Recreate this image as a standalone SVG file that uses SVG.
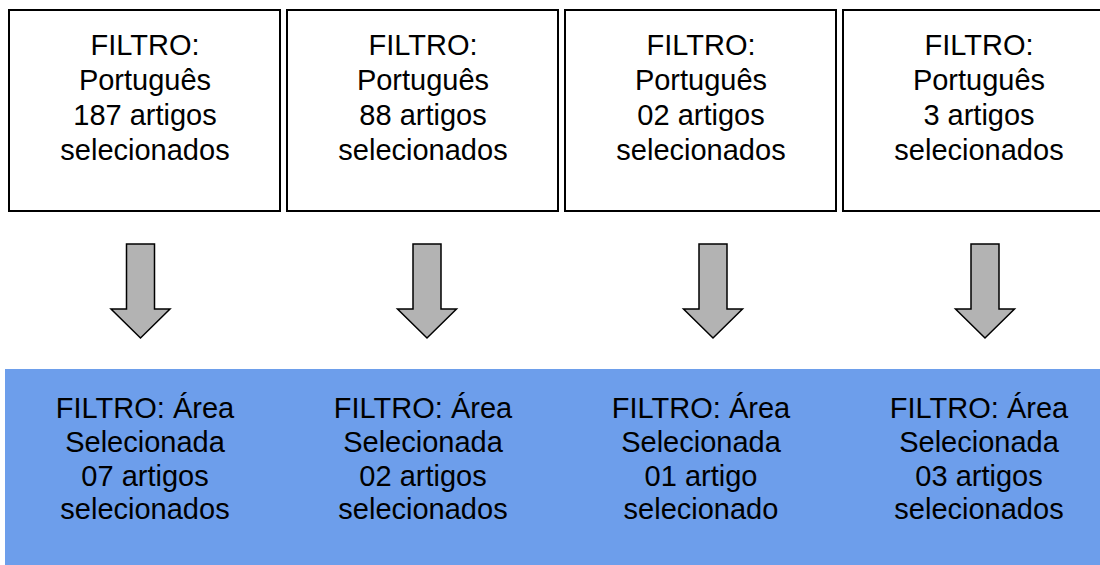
<svg xmlns="http://www.w3.org/2000/svg" width="1100" height="565" viewBox="0 0 1100 565">
<style>
  .box { fill: #ffffff; stroke: #000000; stroke-width: 2; }
  .panel { fill: #6D9EEB; stroke: none; }
  .arrow { fill: #B3B3B3; stroke: #000000; stroke-width: 1.5; stroke-linejoin: miter; }
  .t { font-family: "Liberation Sans", Arial, sans-serif; font-size: 29px; fill: #000000; text-anchor: middle; }
</style>
<rect width="1100" height="565" fill="#ffffff"/>

<g id="lang1">
  <rect class="box" x="9" y="10" width="271" height="201"/>
  <text class="t" x="145" y="55">FILTRO:</text>
  <text class="t" x="145" y="90">Português</text>
  <text class="t" x="145" y="125">187 artigos</text>
  <text class="t" x="145" y="160">selecionados</text>
</g>
<g id="lang2">
  <rect class="box" x="287" y="10" width="271" height="201"/>
  <text class="t" x="423" y="55">FILTRO:</text>
  <text class="t" x="423" y="90">Português</text>
  <text class="t" x="423" y="125">88 artigos</text>
  <text class="t" x="423" y="160">selecionados</text>
</g>
<g id="lang3">
  <rect class="box" x="565" y="10" width="271" height="201"/>
  <text class="t" x="701" y="55">FILTRO:</text>
  <text class="t" x="701" y="90">Português</text>
  <text class="t" x="701" y="125">02 artigos</text>
  <text class="t" x="701" y="160">selecionados</text>
</g>
<g id="lang4">
  <rect class="box" x="843" y="10" width="271" height="201"/>
  <text class="t" x="979" y="55">FILTRO:</text>
  <text class="t" x="979" y="90">Português</text>
  <text class="t" x="979" y="125">3 artigos</text>
  <text class="t" x="979" y="160">selecionados</text>
</g>

<g id="connectors">
  <path class="arrow" d="M126.5,244 L154.5,244 L154.5,309 L170,309 L140.5,338 L111,309 L126.5,309 Z"/>
  <path class="arrow" d="M413,244 L441,244 L441,309 L456.5,309 L427,338 L397.5,309 L413,309 Z"/>
  <path class="arrow" d="M699,244 L727,244 L727,309 L742.5,309 L713,338 L683.5,309 L699,309 Z"/>
  <path class="arrow" d="M971,244 L999,244 L999,309 L1014.5,309 L985,338 L955.5,309 L971,309 Z"/>
</g>

<g id="area1">
  <rect class="panel" x="5" y="369" width="279" height="196"/>
  <text class="t" x="145" y="418">FILTRO: Área</text>
  <text class="t" x="145" y="452">Selecionada</text>
  <text class="t" x="145" y="486">07 artigos</text>
  <text class="t" x="145" y="519">selecionados</text>
</g>
<g id="area2">
  <rect class="panel" x="284" y="369" width="278" height="196"/>
  <text class="t" x="423" y="418">FILTRO: Área</text>
  <text class="t" x="423" y="452">Selecionada</text>
  <text class="t" x="423" y="486">02 artigos</text>
  <text class="t" x="423" y="519">selecionados</text>
</g>
<g id="area3">
  <rect class="panel" x="562" y="369" width="278" height="196"/>
  <text class="t" x="701" y="418">FILTRO: Área</text>
  <text class="t" x="701" y="452">Selecionada</text>
  <text class="t" x="701" y="486">01 artigo</text>
  <text class="t" x="701" y="519">selecionado</text>
</g>
<g id="area4">
  <rect class="panel" x="840" y="369" width="260" height="196"/>
  <text class="t" x="979" y="418">FILTRO: Área</text>
  <text class="t" x="979" y="452">Selecionada</text>
  <text class="t" x="979" y="486">03 artigos</text>
  <text class="t" x="979" y="519">selecionados</text>
</g>
</svg>
